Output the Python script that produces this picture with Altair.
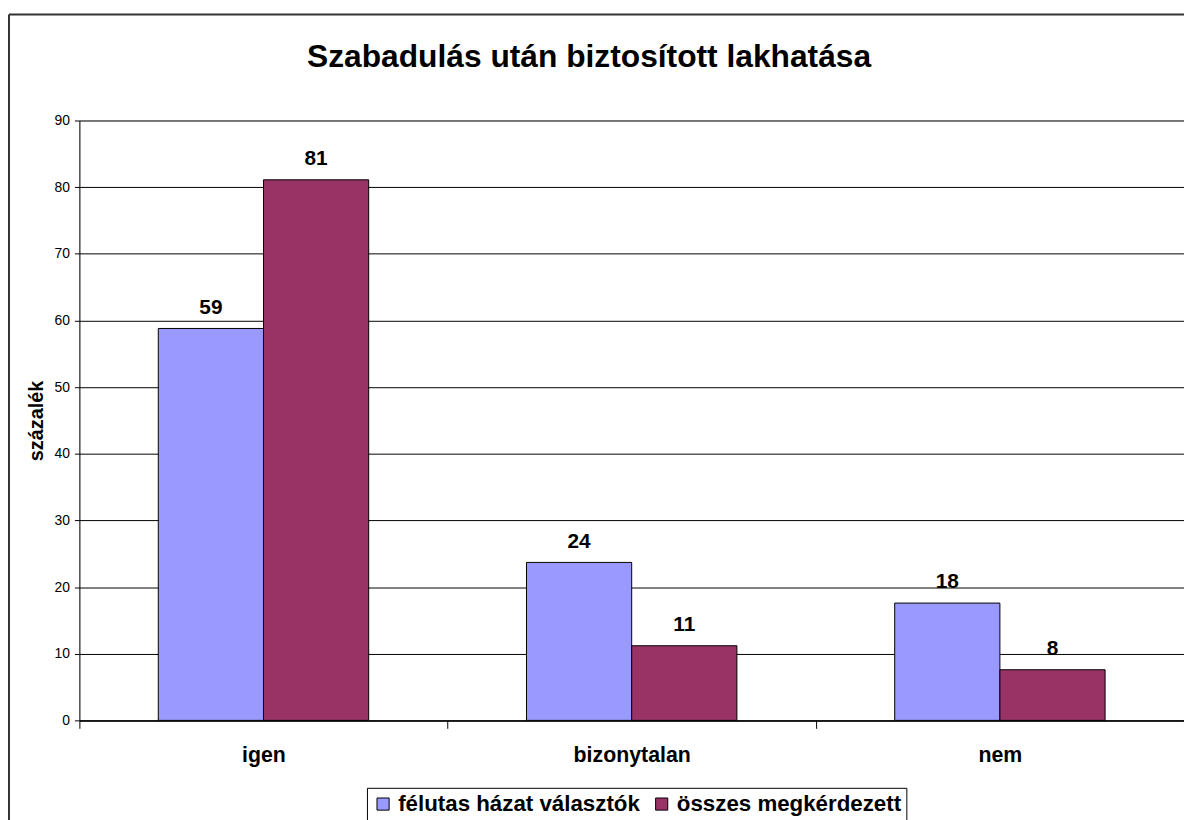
import altair as alt
import pandas as pd

categories = ["igen", "bizonytalan", "nem"]
series = ["félutas házat választók", "összes megkérdezett"]
felutas = [58.8, 23.7, 17.6]
osszes = [81.1, 11.2, 7.6]
colors = ["#9999FF", "#993366"]
y_ticks = [0, 10, 20, 30, 40, 50, 60, 70, 80, 90]

rows = []
for i, c in enumerate(categories):
    rows.append({"kat": c, "sorozat": series[0], "ertek": felutas[i]})
    rows.append({"kat": c, "sorozat": series[1], "ertek": osszes[i]})
df = pd.DataFrame(rows)

FONT = "Liberation Sans"

x_enc = alt.X("kat:N", sort=categories, title=None,
              scale=alt.Scale(paddingInner=0, paddingOuter=0),
              axis=alt.Axis(labelFontSize=21.5, labelFontWeight="bold", labelColor="black",
                            labelPadding=16, labelAngle=0, tickBand="extent", tickSize=8,
                            tickColor="black", domainColor="black", domainWidth=1.5, grid=False,
                            labelFont=FONT))
xo_enc = alt.XOffset("sorozat:N", sort=series,
                     scale=alt.Scale(paddingOuter=0.75, paddingInner=0))
y_enc = alt.Y("ertek:Q", title="százalék",
              scale=alt.Scale(domain=[0, 90], nice=False),
              axis=alt.Axis(values=y_ticks, labelFontSize=14, labelColor="black", labelFont=FONT,
                            tickSize=5, tickColor="black", domainColor="black",
                            grid=True, gridColor="black", gridWidth=1,
                            titleFontSize=20, titleFontWeight="bold", titleFont=FONT,
                            titleColor="black", titlePadding=8, labelPadding=5))

base = alt.Chart(df)

bars = base.mark_bar(stroke="black", strokeWidth=1).encode(
    x=x_enc, xOffset=xo_enc, y=y_enc,
    color=alt.Color("sorozat:N", sort=series,
                    scale=alt.Scale(domain=series, range=colors),
                    legend=alt.Legend(title=None, orient="none", legendX=290, legendY=673,
                                      direction="horizontal", labelFontSize=22.5,
                                      labelFontWeight="bold", labelColor="black", labelFont=FONT,
                                      labelLimit=0,
                                      symbolType="square", symbolSize=150,
                                      symbolStrokeColor="black", symbolStrokeWidth=1,
                                      strokeColor="black", padding=5, columnPadding=10,
                                      labelOffset=4)),
)

labels = base.mark_text(dy=-15, baseline="alphabetic", fontSize=21, fontWeight="bold",
                        font=FONT, color="black").encode(
    x=alt.X("kat:N", sort=categories), xOffset=alt.XOffset("sorozat:N", sort=series),
    y="ertek:Q",
    text=alt.Text("ertek:Q", format=".0f"),
)

frame = alt.Chart(pd.DataFrame({"k": [0]})).mark_rule(color="#333333", strokeWidth=2).encode(
    x=alt.value(-71), x2=alt.value(1200), y=alt.value(-107))
frame_left = alt.Chart(pd.DataFrame({"k": [0]})).mark_rule(color="#333333", strokeWidth=2).encode(
    x=alt.value(-71), y=alt.value(-107), y2=alt.value(720))

chart = alt.layer(bars, labels, frame, frame_left).properties(
    width=1114, height=605,
    padding={"left": 72, "top": 110, "right": 0, "bottom": 97},
    autosize=alt.AutoSizeParams(type="none"),
    title=alt.TitleParams("Szabadulás után biztosított lakhatása", fontSize=32,
                          fontWeight="bold", font=FONT, color="black",
                          anchor="middle", frame="group", dx=-43, offset=-61),
).configure_view(stroke=None).configure(background="white")

chart.save("out.html", embed_options={"renderer": "svg", "actions": False})
